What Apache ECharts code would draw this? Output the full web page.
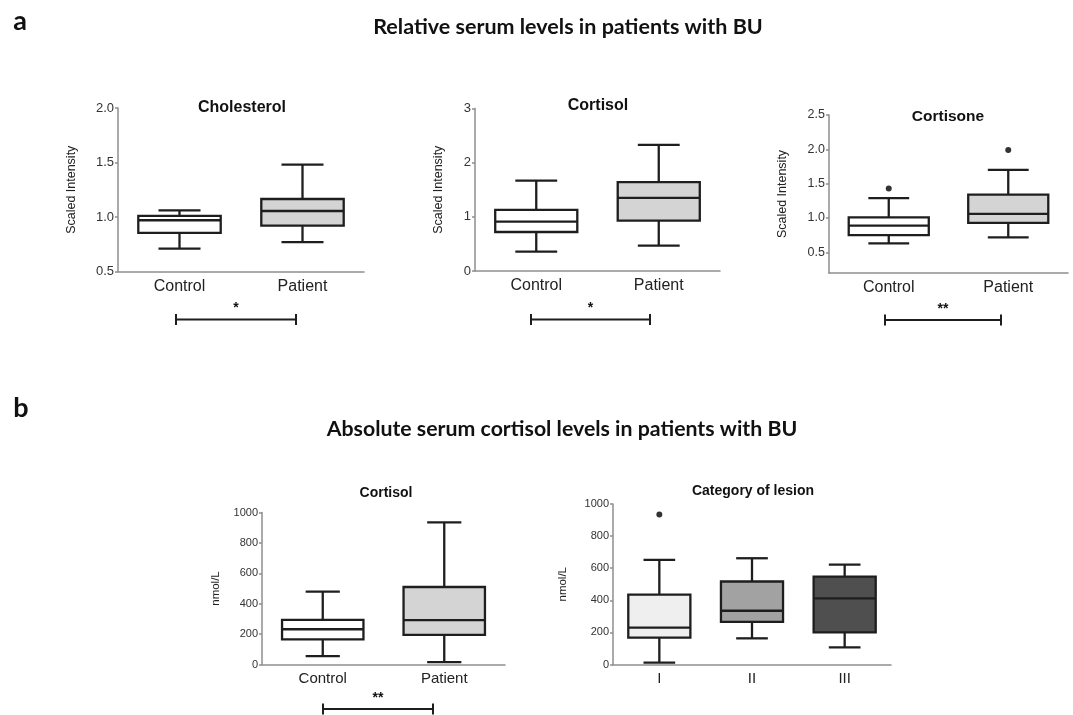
<!DOCTYPE html>
<html>
<head>
<meta charset="utf-8">
<script src="https://cdn.jsdelivr.net/npm/echarts@6/dist/echarts.min.js"></script>
<style>
html,body{margin:0;padding:0;background:#fff;}
#chart{width:1073px;height:715px;}
</style>
</head>
<body>
<div id="chart"></div>
<script>
// ---- data (low whisker, Q1, median, Q3, high whisker) ----
const groupsA = ['Control', 'Patient'];
const cholesterol = [[0.71, 0.855, 0.97, 1.01, 1.06], [0.77, 0.92, 1.055, 1.165, 1.48]];
const cortisolScaled = [[0.356, 0.72, 0.91, 1.13, 1.67], [0.47, 0.93, 1.35, 1.64, 2.33]];
const cortisone = [[0.63, 0.75, 0.89, 1.01, 1.29], [0.72, 0.93, 1.06, 1.34, 1.70]];
const cortisoneOutliers = [[0, 1.43], [1, 1.99]];
const cortisolAbs = [[55, 165, 232, 293, 480], [15, 195, 292, 510, 935]];
const lesionCats = ['I', 'II', 'III'];
const lesion = [[12, 168, 230, 435, 652], [163, 265, 335, 517, 662], [107, 200, 412, 548, 622]];
const lesionOutliers = [[0, 935]];
const fillsA = ['#ffffff', '#d4d4d4'];
const fillsLesion = ['#efefef', '#a2a2a2', '#4f4f4f'];
const cortisoneTicks = [0.5, 1.0, 1.5, 2.0, 2.5];

const AXIS = '#8e8e8e';
const INK = '#1e1e1e';
const SANS = '"Liberation Sans", Arial, sans-serif';
const HEAD = 'Lato, "Open Sans", sans-serif';

function boxSeries(idx, rows, fills, boxRatio, capRatio) {
  return {
    type: 'custom',
    xAxisIndex: idx, yAxisIndex: idx,
    data: rows.map((r, i) => [i].concat(r)),
    encode: { x: 0, y: [1, 2, 3, 4, 5] },
    renderItem: function (params, api) {
      const i = api.value(0);
      const band = api.size([1, 0])[0];
      const cx = api.coord([i, 0])[0];
      const bw = band * boxRatio, cw = bw * capRatio;
      const y = [1, 2, 3, 4, 5].map(k => api.coord([i, api.value(k)])[1]);
      const ls = { stroke: INK, lineWidth: 2.3 };
      return {
        type: 'group',
        children: [
          { type: 'line', shape: { x1: cx, y1: y[0], x2: cx, y2: y[1] }, style: ls },
          { type: 'line', shape: { x1: cx, y1: y[3], x2: cx, y2: y[4] }, style: ls },
          { type: 'line', shape: { x1: cx - cw / 2, y1: y[0], x2: cx + cw / 2, y2: y[0] }, style: ls },
          { type: 'line', shape: { x1: cx - cw / 2, y1: y[4], x2: cx + cw / 2, y2: y[4] }, style: ls },
          { type: 'rect', shape: { x: cx - bw / 2, y: y[3], width: bw, height: y[1] - y[3] },
            style: { fill: fills[i], stroke: INK, lineWidth: 2.3 } },
          { type: 'line', shape: { x1: cx - bw / 2, y1: y[2], x2: cx + bw / 2, y2: y[2] }, style: ls }
        ]
      };
    }
  };
}

function outlierSeries(idx, pts) {
  return {
    type: 'scatter', xAxisIndex: idx, yAxisIndex: idx,
    data: pts, symbol: 'circle', symbolSize: 6,
    itemStyle: { color: '#000' }, silent: true
  };
}

function xAx(idx, cats, fs) {
  return {
    gridIndex: idx, type: 'category', data: cats,
    axisLine: { lineStyle: { color: AXIS, width: 1.5 } },
    axisTick: { alignWithLabel: true, length: 4, lineStyle: { color: AXIS, width: 1.5 } },
    axisLabel: { color: '#222', fontSize: fs, fontFamily: SANS, margin: 7 },
    splitLine: { show: false }
  };
}

function yAx(idx, min, max, interval, fs, dec, name, gap, extra) {
  const a = {
    gridIndex: idx, type: 'value', min: min, max: max, interval: interval,
    name: name, nameLocation: 'middle', nameGap: gap, nameRotate: 90,
    nameTextStyle: { fontSize: fs === 11 ? 11.5 : 12.5, fontFamily: SANS, color: '#222' },
    axisLine: { show: true, lineStyle: { color: AXIS, width: 1.5 } },
    axisTick: { show: true, length: 3, lineStyle: { color: AXIS, width: 1.5 } },
    axisLabel: { color: '#333', fontSize: fs, fontFamily: SANS, margin: 4,
      formatter: v => dec ? Number(v).toFixed(1) : String(v) },
    splitLine: { show: false }
  };
  if (extra) {
    a.axisTick.customValues = extra;
    a.axisLabel.customValues = extra;
  }
  return a;
}

function txt(text, x, y, size, family, weight) {
  return { type: 'text', x: x, y: y, silent: true,
    style: { text: text, fill: '#111', font: (weight || 'bold') + ' ' + size + 'px ' + family,
      textAlign: 'center', textVerticalAlign: 'middle' } };
}

function sigBar(x1, x2, y, stars, sy) {
  const st = { stroke: INK, lineWidth: 2 };
  return [
    { type: 'line', silent: true, shape: { x1: x1, y1: y, x2: x2, y2: y }, style: st },
    { type: 'line', silent: true, shape: { x1: x1, y1: y - 5.5, x2: x1, y2: y + 5.5 }, style: st },
    { type: 'line', silent: true, shape: { x1: x2, y1: y - 5.5, x2: x2, y2: y + 5.5 }, style: st },
    txt(stars, (x1 + x2) / 2, sy, 14, SANS, 'bold')
  ];
}

const chart = echarts.init(document.getElementById('chart'), null, { renderer: 'canvas' });
const option = {
  backgroundColor: '#ffffff',
  animation: false,
  grid: [
    { left: 118, top: 108, width: 246, height: 163.5 },
    { left: 475, top: 108.5, width: 245, height: 162.5 },
    { left: 829, top: 115, width: 239, height: 158 },
    { left: 262, top: 512.5, width: 243, height: 152 },
    { left: 613, top: 504, width: 278, height: 160.5 }
  ],
  xAxis: [
    xAx(0, groupsA, 16), xAx(1, groupsA, 16), xAx(2, groupsA, 16),
    xAx(3, groupsA, 15), xAx(4, lesionCats, 15)
  ],
  yAxis: [
    yAx(0, 0.5, 2.0, 0.5, 13, true, 'Scaled Intensity', 40),
    yAx(1, 0, 3, 1, 13, false, 'Scaled Intensity', 30),
    yAx(2, 0.2, 2.5, 0.1, 12.5, true, 'Scaled Intensity', 40, cortisoneTicks),
    yAx(3, 0, 1000, 200, 11, false, 'nmol/L', 40),
    yAx(4, 0, 1000, 200, 11, false, 'nmol/L', 44)
  ],
  series: [
    boxSeries(0, cholesterol, fillsA, 0.67, 0.51),
    boxSeries(1, cortisolScaled, fillsA, 0.67, 0.51),
    boxSeries(2, cortisone, fillsA, 0.67, 0.51),
    outlierSeries(2, cortisoneOutliers),
    boxSeries(3, cortisolAbs, fillsA, 0.67, 0.42),
    boxSeries(4, lesion, fillsLesion, 0.67, 0.51),
    outlierSeries(4, lesionOutliers)
  ],
  graphic: [
    txt('a', 20, 21, 27, HEAD),
    txt('Relative serum levels in patients with BU', 568, 27, 21.5, HEAD),
    txt('b', 21, 408, 27, HEAD),
    txt('Absolute serum cortisol levels in patients with BU', 562, 429, 21.3, HEAD),
    txt('Cholesterol', 242, 108, 16, SANS),
    txt('Cortisol', 598, 106, 16, SANS),
    txt('Cortisone', 948, 117, 15.5, SANS),
    txt('Cortisol', 386, 493, 14, SANS),
    txt('Category of lesion', 753, 491, 14, SANS)
  ].concat(
    sigBar(176, 296, 319.5, '*', 308),
    sigBar(531, 650, 319.5, '*', 308),
    sigBar(885, 1001, 320, '**', 309),
    sigBar(323, 433, 709, '**', 698)
  )
};
chart.setOption(option);
</script>
</body>
</html>
